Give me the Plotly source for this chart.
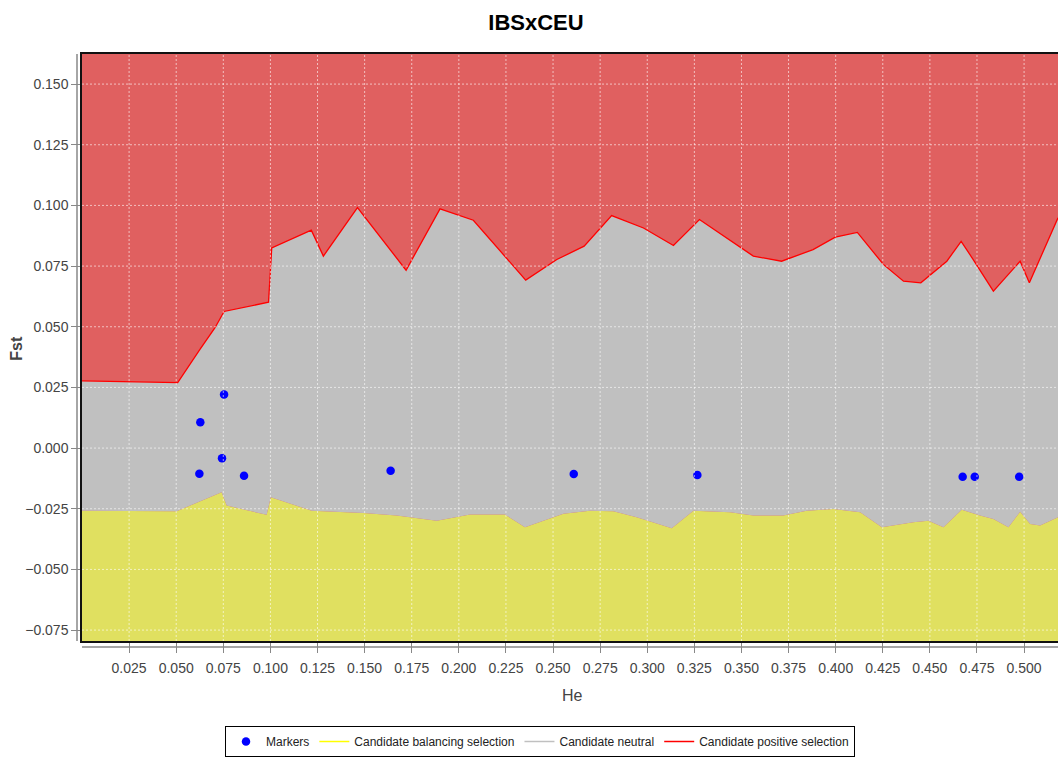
"""
IBSxCEU — Fst vs He outlier plot (balancing / neutral / positive selection bands).
"""
import plotly.graph_objects as go

# ── Palette ───────────────────────────────────────────────────────────────────
_RED_BG  = "#E06060"
_GREY    = "#C0C0C0"
_YELLOW  = "#E0E060"
_LINE    = "#FF0000"
_BLUE    = "#0000FF"
_TICK    = "#444444"
_FONT    = "Liberation Sans, Arial, sans-serif"

# ── Data ──────────────────────────────────────────────────────────────────────
he_upper = [0.000, 0.0508, 0.0626, 0.0706, 0.0754, 0.0990, 0.1007, 0.1217, 0.1281,
            0.1462, 0.1720, 0.1900, 0.2077, 0.2355, 0.2520, 0.2665, 0.2811, 0.2980,
            0.3139, 0.3277, 0.3563, 0.3713, 0.3880, 0.3998, 0.4115, 0.4253, 0.4360,
            0.4452, 0.4590, 0.4666, 0.4730, 0.4837, 0.4979, 0.5028, 0.5180]
fst_upper = [0.0277, 0.0270, 0.0407, 0.0496, 0.0563, 0.0601, 0.0825, 0.0898, 0.0791,
             0.0991, 0.0733, 0.0986, 0.0939, 0.0692, 0.0777, 0.0832, 0.0958, 0.0907,
             0.0835, 0.0942, 0.0791, 0.0770, 0.0818, 0.0869, 0.0889, 0.0757, 0.0688,
             0.0681, 0.0770, 0.0852, 0.0777, 0.0647, 0.0770, 0.0681, 0.0949]

he_lower = [0.000, 0.0503, 0.0741, 0.0768, 0.0980, 0.1002, 0.1219, 0.1493, 0.1670,
            0.1883, 0.2060, 0.2245, 0.2351, 0.2555, 0.2696, 0.2820, 0.2944, 0.3130,
            0.3245, 0.3440, 0.3563, 0.3722, 0.3846, 0.3988, 0.4130, 0.4245, 0.4412,
            0.4492, 0.4572, 0.4669, 0.4766, 0.4837, 0.4917, 0.4979, 0.5032, 0.5085,
            0.5180]
fst_lower = [-0.0258, -0.0260, -0.0182, -0.0237, -0.0275, -0.0203, -0.0258, -0.0268,
             -0.0278, -0.0299, -0.0274, -0.0274, -0.0326, -0.0271, -0.0258, -0.0260,
             -0.0285, -0.0330, -0.0258, -0.0264, -0.0278, -0.0278, -0.0258, -0.0251,
             -0.0264, -0.0326, -0.0306, -0.0299, -0.0326, -0.0254, -0.0278, -0.0292,
             -0.0326, -0.0262, -0.0313, -0.0319, -0.0285]

marker_he  = [0.0754, 0.0628, 0.0743, 0.0623, 0.0860, 0.1638, 0.2610, 0.3266,
              0.4674, 0.4738, 0.4974]
marker_fst = [0.0221, 0.0106, -0.0042, -0.0106, -0.0114, -0.0093, -0.0107, -0.0111,
              -0.0118, -0.0118, -0.0118]

x_ticks = [0.025, 0.050, 0.075, 0.100, 0.125, 0.150, 0.175, 0.200, 0.225, 0.250,
           0.275, 0.300, 0.325, 0.350, 0.375, 0.400, 0.425, 0.450, 0.475, 0.500]
y_ticks = [-0.075, -0.050, -0.025, 0.000, 0.025, 0.050, 0.075, 0.100, 0.125, 0.150]

X_RANGE = [0.0, 0.518]
Y_RANGE = [-0.0795, 0.1624]
FLOOR   = -0.2

_W, _H = 1058, 757
_PW, _PH = 976, 588   # plot area in px

# ── Figure ────────────────────────────────────────────────────────────────────
fig = go.Figure()

# invisible floor the yellow band fills down to
fig.add_trace(go.Scatter(
    x=X_RANGE, y=[FLOOR, FLOOR], mode="lines",
    line=dict(width=0), showlegend=False, hoverinfo="skip",
))
fig.add_trace(go.Scatter(
    x=he_lower, y=fst_lower, mode="lines", fill="tonexty",
    fillcolor=_YELLOW, line=dict(width=0, color=_YELLOW),
    showlegend=False, hoverinfo="skip",
))
fig.add_trace(go.Scatter(
    x=he_upper, y=fst_upper, mode="lines", fill="tonexty",
    fillcolor=_GREY, line=dict(width=1.3, color=_LINE),
    showlegend=False, hoverinfo="skip",
))

# dotted grid drawn over the bands
grid = dict(color="rgba(255,255,255,0.6)", width=1, dash="2px,2px")
for v in x_ticks:
    fig.add_shape(type="line", xref="x", yref="paper", x0=v, x1=v, y0=0, y1=1,
                  line=grid, layer="above")
for v in y_ticks:
    fig.add_shape(type="line", xref="paper", yref="y", x0=0, x1=1, y0=v, y1=v,
                  line=grid, layer="above")

fig.add_trace(go.Scatter(
    x=marker_he, y=marker_fst, mode="markers", name="Markers",
    marker=dict(color=_BLUE, size=8.5, line=dict(width=0)),
))

# legend-only entries
for name, col in [("Candidate balancing selection", "#FFFF00"),
                  ("Candidate neutral", _GREY),
                  ("Candidate positive selection", _LINE)]:
    fig.add_trace(go.Scatter(x=[None], y=[None], mode="lines", name=name,
                             line=dict(color=col, width=1.5)))

# offset axis lines (JFreeChart style)
fig.add_shape(type="line", xref="paper", yref="paper",
              x0=-5 / _PW, x1=-5 / _PW, y0=0, y1=1,
              line=dict(color="#888888", width=1.5))
fig.add_shape(type="line", xref="paper", yref="paper",
              x0=0, x1=1, y0=-6 / _PH, y1=-6 / _PH,
              line=dict(color="#888888", width=1.5))

fig.add_annotation(text="<b>Fst</b>", textangle=-90, x=-65 / _PW, y=0.498,
                   xref="paper", yref="paper", xanchor="center", yanchor="middle",
                   showarrow=False, font=dict(family=_FONT, size=16, color="#444444"))
fig.add_annotation(text="He", x=0.503, y=-55 / _PH, xref="paper", yref="paper",
                   xanchor="center", yanchor="middle", showarrow=False,
                   font=dict(family=_FONT, size=16, color="#444444"))

fig.update_layout(
    width=_W, height=_H,
    title=dict(text="<b>IBSxCEU</b>", x=536 / _W, xanchor="center",
               y=1 - 22 / _H, yanchor="middle",
               font=dict(family=_FONT, size=22, color="#000000")),
    paper_bgcolor="white",
    plot_bgcolor=_RED_BG,
    margin=dict(l=82, r=0, t=54, b=_H - 642),
    font=dict(family=_FONT, size=14, color=_TICK),
    xaxis=dict(
        range=X_RANGE, tickvals=x_ticks, tickformat=".3f",
        showgrid=False, zeroline=False,
        showline=True, mirror=True, linecolor="#111111", linewidth=1.5,
        ticks="outside", ticklen=10, tickcolor="#888888", ticklabelstandoff=3,
    ),
    yaxis=dict(
        range=Y_RANGE, tickvals=y_ticks, tickformat=".3f",
        showgrid=False, zeroline=False,
        showline=True, mirror=False, linecolor="#111111", linewidth=1.5,
        ticks="outside", ticklen=9, tickcolor="#888888",
    ),
    legend=dict(
        orientation="h", x=(540 - 82) / _PW, xanchor="center",
        y=-(727 - 642) / _PH, yanchor="top",
        bgcolor="white", bordercolor="#000000", borderwidth=1,
        font=dict(family=_FONT, size=12, color="#222222"),
        traceorder="normal", itemwidth=30,
    ),
    showlegend=True,
)

fig.write_html(
    "out.html",
    config={"displayModeBar": False},
    post_script="document.body.style.margin='0';document.body.style.overflow='hidden';",
)
